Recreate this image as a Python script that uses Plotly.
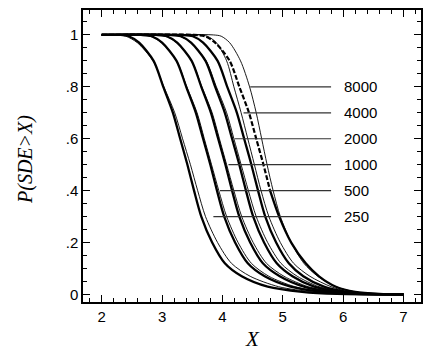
import plotly.graph_objects as go

P_LEVELS = [1.0, 1.0, 0.995, 0.97, 0.9, 0.8, 0.7, 0.6, 0.5, 0.4, 0.3, 0.2, 0.12, 0.07, 0.03, 0.01, 0.002, 0.0]

# Thick (empirical) curves: x values at P_LEVELS
X_250 = [2.0, 2.30, 2.45, 2.62, 2.86, 3.02, 3.18, 3.30, 3.42, 3.53, 3.65, 3.83, 4.04, 4.32, 4.75, 5.32, 5.90, 7.0]
X_500 = [2.0, 2.65, 2.83, 3.00, 3.24, 3.40, 3.56, 3.68, 3.80, 3.91, 4.03, 4.21, 4.42, 4.70, 5.13, 5.65, 6.20, 7.0]
X_1000 = [2.0, 2.90, 3.08, 3.25, 3.49, 3.65, 3.81, 3.93, 4.05, 4.16, 4.28, 4.46, 4.67, 4.95, 5.35, 5.80, 6.30, 7.0]
X_2000 = [2.0, 3.12, 3.31, 3.48, 3.72, 3.88, 4.04, 4.16, 4.28, 4.39, 4.51, 4.69, 4.90, 5.16, 5.52, 5.95, 6.40, 7.0]
X_4000 = [2.0, 3.32, 3.51, 3.68, 3.92, 4.08, 4.24, 4.36, 4.48, 4.59, 4.71, 4.89, 5.10, 5.34, 5.68, 6.05, 6.50, 7.0]
X_8000 = [2.0, 3.52, 3.71, 3.88, 4.12, 4.28, 4.44, 4.56, 4.68, 4.79, 4.94, 5.14, 5.38, 5.60, 5.88, 6.20, 6.60, 7.0]

# Thin (fitted) curves: x values at P_LEVELS
T_250 = [2.0, 2.22, 2.40, 2.59, 2.85, 3.03, 3.21, 3.34, 3.47, 3.59, 3.72, 3.92, 4.15, 4.46, 4.93, 5.50, 6.10, 7.0]
T_500 = [2.0, 2.62, 2.80, 2.99, 3.24, 3.41, 3.58, 3.70, 3.82, 3.94, 4.07, 4.26, 4.48, 4.77, 5.20, 5.70, 6.20, 7.0]
T_1000 = [2.0, 2.88, 3.05, 3.24, 3.49, 3.66, 3.83, 3.95, 4.07, 4.19, 4.32, 4.51, 4.73, 5.02, 5.42, 5.85, 6.30, 7.0]
T_2000 = [2.0, 3.12, 3.29, 3.48, 3.73, 3.90, 4.07, 4.19, 4.31, 4.43, 4.56, 4.75, 4.97, 5.24, 5.60, 6.00, 6.40, 7.0]
T_4000 = [2.0, 3.60, 3.75, 3.90, 4.07, 4.19, 4.31, 4.42, 4.53, 4.64, 4.77, 4.96, 5.18, 5.45, 5.80, 6.10, 6.50, 7.0]
T_8000 = [2.0, 3.85, 3.98, 4.12, 4.30, 4.45, 4.56, 4.65, 4.74, 4.84, 4.96, 5.14, 5.35, 5.58, 5.88, 6.20, 6.60, 7.0]

# Labels and their leader lines
LABELS = ["8000", "4000", "2000", "1000", "500", "250"]
LABEL_Y = [0.8, 0.7, 0.6, 0.5, 0.4, 0.3]
LEADER_X0 = [4.46, 4.35, 4.20, 4.10, 3.96, 3.85]
LEADER_X1 = 5.80
LABEL_X = 5.98

X_TICKS = [2, 3, 4, 5, 6, 7]
Y_TICKS = [0, 0.2, 0.4, 0.6, 0.8, 1.0]
Y_TICKTEXT = ["0", ".2", ".4", ".6", ".8", "1"]

# The page places the figure 8px from the top-left corner of the window
OFF = 8
W, H = 436 - OFF, 352 - OFF
ML, MR, MT, MB = 83 - OFF, 15, 10 - OFF, 58 - OFF

fig = go.Figure()

line_style = dict(color="black", shape="spline", smoothing=0.8)

for xs in [T_250, T_500, T_1000, T_2000, T_4000, T_8000]:
    fig.add_trace(go.Scatter(x=xs, y=P_LEVELS, mode="lines",
                             line=dict(width=0.9, **line_style),
                             hoverinfo="skip", showlegend=False))

for xs in [X_250, X_500, X_1000, X_2000, X_4000]:
    fig.add_trace(go.Scatter(x=xs, y=P_LEVELS, mode="lines",
                             line=dict(width=2.3, **line_style),
                             hoverinfo="skip", showlegend=False))

# 8000: broken upper part, solid lower part
split = 10
fig.add_trace(go.Scatter(x=X_8000[:split], y=P_LEVELS[:split], mode="lines",
                         line=dict(width=2.2, dash="5px,2px", **line_style),
                         hoverinfo="skip", showlegend=False))
fig.add_trace(go.Scatter(x=X_8000[split - 1:], y=P_LEVELS[split - 1:], mode="lines",
                         line=dict(width=2.3, **line_style),
                         hoverinfo="skip", showlegend=False))

for lab, ly, lx0 in zip(LABELS, LABEL_Y, LEADER_X0):
    fig.add_trace(go.Scatter(x=[lx0, LEADER_X1], y=[ly, ly], mode="lines",
                             line=dict(color="#333333", width=1.2),
                             hoverinfo="skip", showlegend=False))
    fig.add_annotation(x=LABEL_X, y=ly, text=lab, showarrow=False, xanchor="left",
                       yanchor="middle", font=dict(family="Liberation Sans", size=15, color="black"))

# Axis titles placed as paper annotations (target window pixels -> paper coords)
PW, PH = W - ML - MR, H - MT - MB
def paper_x(px):
    return (px - OFF - ML) / PW
def paper_y(py):
    return (H - MB - (py - OFF)) / PH

fig.add_annotation(xref="paper", yref="paper", x=paper_x(252), y=paper_y(339),
                   text="<i>X</i>", showarrow=False, xanchor="center", yanchor="middle",
                   font=dict(family="Liberation Serif", size=21, color="black"))
fig.add_annotation(xref="paper", yref="paper", x=paper_x(25), y=paper_y(160),
                   text="<i>P(SDE>X)</i>", showarrow=False, textangle=-90, xanchor="center", yanchor="middle",
                   font=dict(family="Liberation Serif", size=20, color="black"))

axis_common = dict(showgrid=False, zeroline=False, showline=True, linecolor="black",
                   linewidth=1.5, mirror="ticks", ticks="inside", ticklen=7, tickwidth=1.2,
                   tickcolor="black", automargin=False,
                   tickfont=dict(family="Liberation Sans", size=15, color="black"))

fig.update_xaxes(range=[1.69, 7.29], tickvals=X_TICKS, ticktext=[str(v) for v in X_TICKS],
                 minor=dict(dtick=0.2, tick0=2, ticks="inside", ticklen=4, tickwidth=1, tickcolor="black"),
                 **axis_common)
fig.update_yaxes(range=[-0.029, 1.096], tickvals=Y_TICKS, ticktext=Y_TICKTEXT,
                 minor=dict(dtick=0.05, tick0=0, ticks="inside", ticklen=4, tickwidth=1, tickcolor="black"),
                 **axis_common)

fig.update_layout(width=W, height=H, margin=dict(l=ML, r=MR, t=MT, b=MB),
                  plot_bgcolor="white", paper_bgcolor="white")

fig.write_html("out.html")
